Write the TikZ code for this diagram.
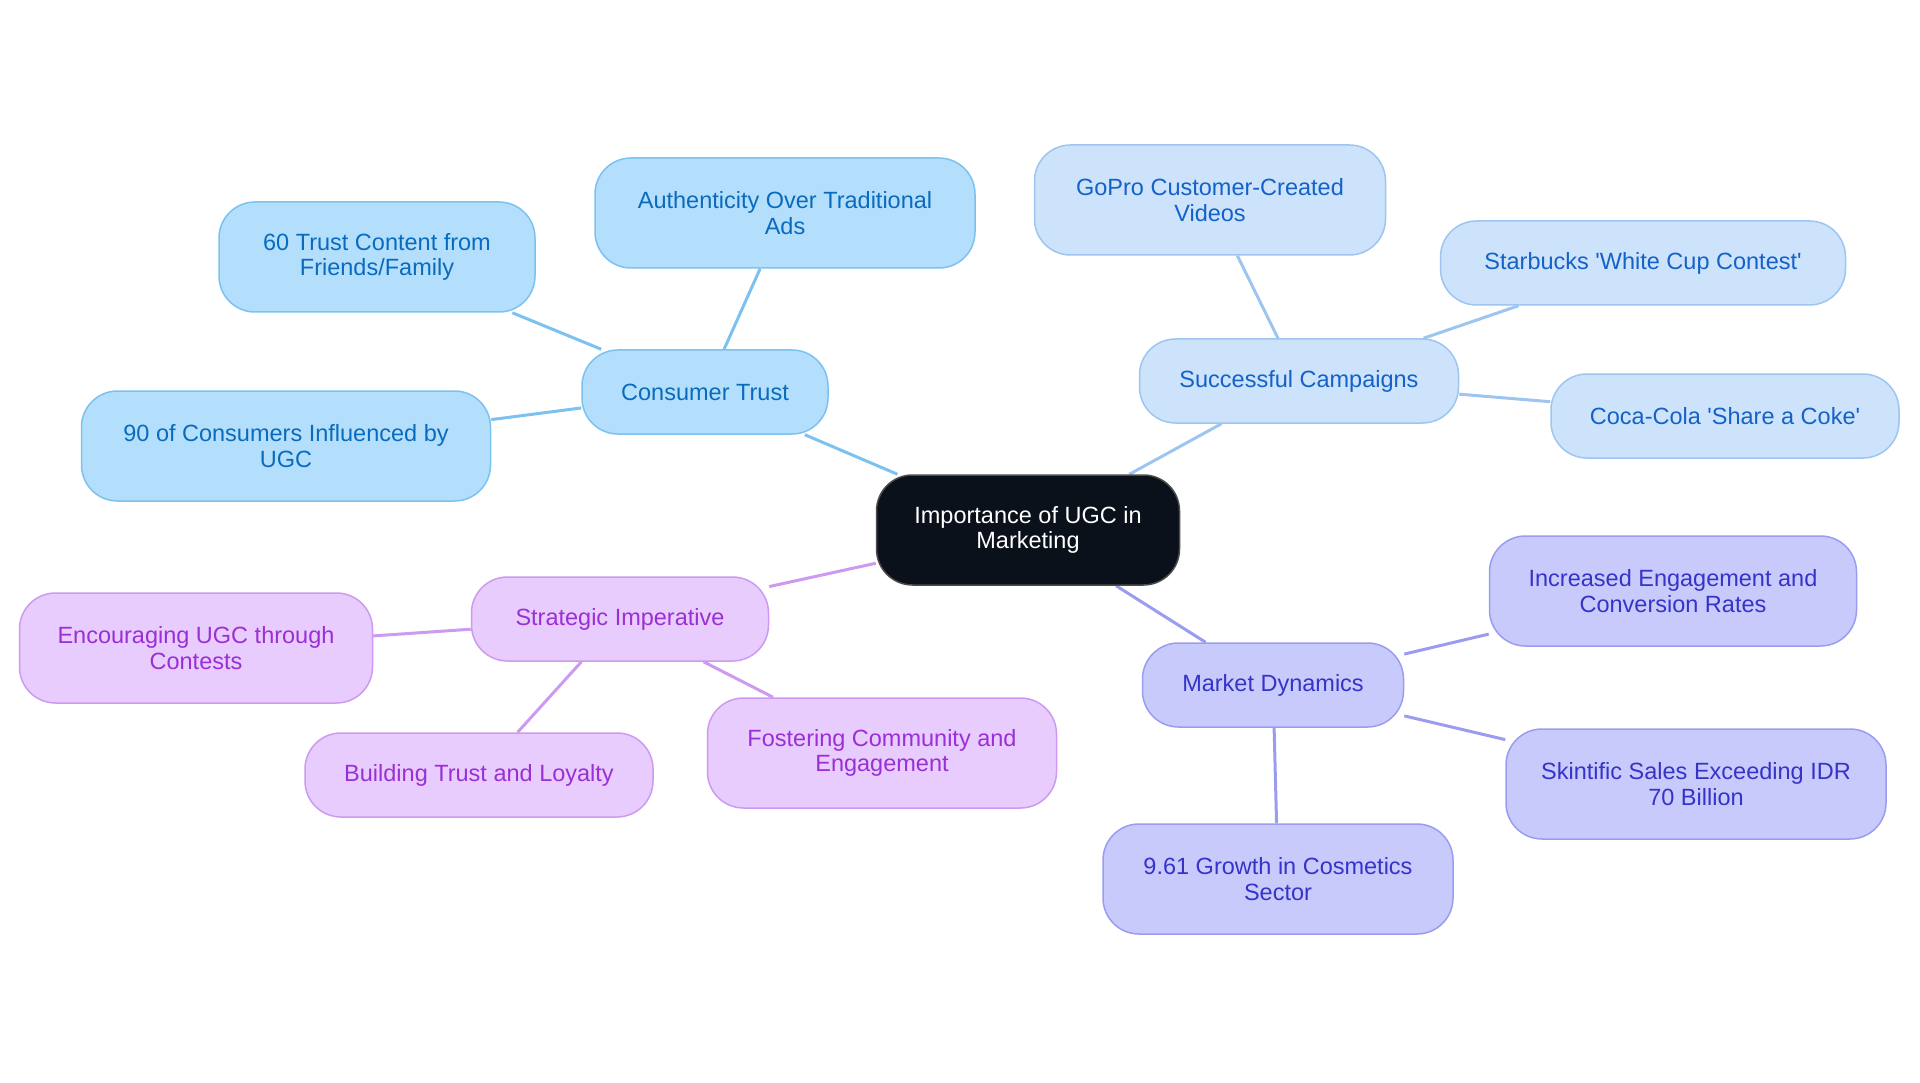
\documentclass[tikz,border=0pt]{standalone}
\usepackage{fontspec}
\setmainfont{Liberation Sans}
\usepackage{xcolor}
\usetikzlibrary{backgrounds}

\definecolor{rootfill}{HTML}{0B111B}
\definecolor{trustfill}{HTML}{B3DFFD}
\definecolor{trustline}{HTML}{7CC1EF}
\definecolor{trusttext}{HTML}{0A6BBD}
\definecolor{campfill}{HTML}{CCE3FB}
\definecolor{campline}{HTML}{9DC5F0}
\definecolor{camptext}{HTML}{1462C8}
\definecolor{stratfill}{HTML}{E8CCFD}
\definecolor{stratline}{HTML}{CC9AF0}
\definecolor{strattext}{HTML}{9A2FD6}
\definecolor{marketfill}{HTML}{C9CAFC}
\definecolor{marketline}{HTML}{9A9CF0}
\definecolor{markettext}{HTML}{3533C8}

\begin{document}
\begin{tikzpicture}[x=1pt, y=-1pt,
  bubble/.style={rectangle, rounded corners=36pt, line width=1.5pt, align=center,
    font=\fontsize{23.5}{25.5}\selectfont, minimum height=84pt, inner sep=4pt},
  tall/.style={minimum height=110pt},
  rootbox/.style={bubble, fill=rootfill, draw=black!70, text=white},
  trust/.style={bubble, fill=trustfill, draw=trustline, text=trusttext},
  camp/.style={bubble, fill=campfill, draw=campline, text=camptext},
  strat/.style={bubble, fill=stratfill, draw=stratline, text=strattext},
  market/.style={bubble, fill=marketfill, draw=marketline, text=markettext},
  link/.style={line width=3pt}]
  \useasboundingbox (0,0) rectangle (1920,1083);

  \node (root) [rootbox, tall, minimum width=303pt] at (1028,530) {Importance of UGC in\\Marketing};

  % consumer trust
  \node (trust) [trust, minimum width=246pt] at (705,392) {Consumer Trust};
  \node (auth) [trust, tall, minimum width=380pt] at (785,213) {Authenticity Over Traditional\\Ads};
  \node (friends) [trust, tall, minimum width=316pt] at (377,257) {60 Trust Content from\\Friends/Family};
  \node (influenced) [trust, tall, minimum width=409pt] at (286,446) {90 of Consumers Influenced by\\UGC};

  % campaigns
  \node (camp) [camp, minimum width=319pt] at (1299,381) {Successful Campaigns};
  \node (gopro) [camp, tall, minimum width=351pt] at (1210,200) {GoPro Customer-Created\\Videos};
  \node (starbucks) [camp, minimum width=405pt] at (1643,263) {Starbucks \textquotesingle White Cup Contest\textquotesingle};
  \node (coke) [camp, minimum width=348pt] at (1725,416) {Coca-Cola \textquotesingle Share a Coke\textquotesingle};

  % strategic imperative
  \node (strat) [strat, minimum width=297pt] at (620,619) {Strategic Imperative};
  \node (contests) [strat, tall, minimum width=353pt] at (196,648) {Encouraging UGC through\\Contests};
  \node (loyalty) [strat, minimum width=348pt] at (479,775) {Building Trust and Loyalty};
  \node (community) [strat, tall, minimum width=349pt] at (882,753) {Fostering Community and\\Engagement};

  % market dynamics
  \node (market) [market, minimum width=261pt] at (1273,685) {Market Dynamics};
  \node (conversion) [market, tall, minimum width=367pt] at (1673,591) {Increased Engagement and\\Conversion Rates};
  \node (skintific) [market, tall, minimum width=380pt] at (1696,784) {Skintific Sales Exceeding IDR\\70 Billion};
  \node (cosmetics) [market, tall, minimum width=350pt] at (1278,879) {9.61 Growth in Cosmetics\\Sector};

  \begin{scope}[on background layer]
    \draw[link, trustline] (root) -- (trust);
    \draw[link, trustline] (trust) -- (auth);
    \draw[link, trustline] (trust) -- (friends);
    \draw[link, trustline] (trust) -- (influenced);
    \draw[link, campline] (root) -- (camp);
    \draw[link, campline] (camp) -- (gopro);
    \draw[link, campline] (camp) -- (starbucks);
    \draw[link, campline] (camp) -- (coke);
    \draw[link, stratline] (root) -- (strat);
    \draw[link, stratline] (strat) -- (contests);
    \draw[link, stratline] (strat) -- (loyalty);
    \draw[link, stratline] (strat) -- (community);
    \draw[link, marketline] (root) -- (market);
    \draw[link, marketline] (market) -- (conversion);
    \draw[link, marketline] (market) -- (skintific);
    \draw[link, marketline] (market) -- (cosmetics);
  \end{scope}
\end{tikzpicture}
\end{document}
